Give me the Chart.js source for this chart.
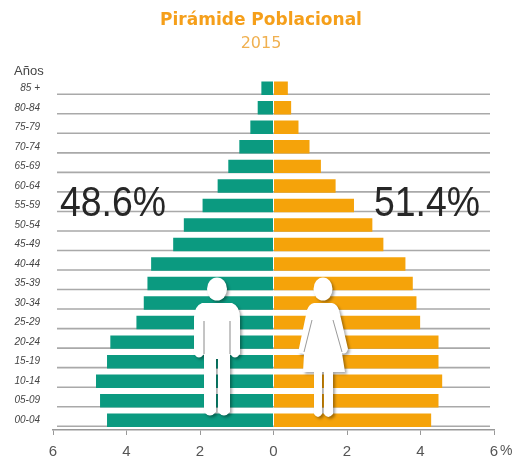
<!DOCTYPE html>
<html>
<head>
<meta charset="utf-8">
<script src="https://cdn.jsdelivr.net/npm/chart.js@4"></script>
<style>
  html, body { margin: 0; background: #fff; }
  #wrap { width: 514px; height: 459px; }
</style>
</head>
<body>
<div id="wrap"><canvas id="pyramid" width="514" height="459"></canvas></div>
<script>
// Values, % of population per age band (top band first).
const ageGroups = ['85 +', '80-84', '75-79', '70-74', '65-69', '60-64', '55-59', '50-54', '45-49',
    '40-44', '35-39', '30-34', '25-29', '20-24', '15-19', '10-14', '05-09', '00-04'];
const hombres = [0.33, 0.43, 0.63, 0.93, 1.23, 1.52, 1.93, 2.44, 2.73,
    3.33, 3.43, 3.53, 3.73, 4.44, 4.53, 4.83, 4.72, 4.53];
const mujeres = [0.39, 0.48, 0.68, 0.98, 1.29, 1.69, 2.19, 2.69, 2.99,
    3.59, 3.79, 3.89, 3.99, 4.49, 4.49, 4.59, 4.49, 4.29];
const xTicks = [-6, -4, -2, 0, 2, 4, 6];
const totalHombres = '48.6%';
const totalMujeres = '51.4%';

const TEAL = '#0b9a80';
const ORANGE = '#f5a30a';
const SANS = '"Liberation Sans", sans-serif';

// White man, drawn from its own head-centre origin.
function drawMan(ctx) {
    ctx.beginPath();
    ctx.ellipse(0, 0, 10, 11.5, 0, 0, Math.PI * 2);
    ctx.fill();
    ctx.beginPath();
    ctx.moveTo(-15, 14);
    ctx.lineTo(15, 14);
    ctx.quadraticCurveTo(23, 17, 23, 29);
    ctx.lineTo(23, 65);
    ctx.quadraticCurveTo(18, 72, 13, 65);
    ctx.lineTo(13, 123);
    ctx.quadraticCurveTo(7, 130, 1, 123);
    ctx.lineTo(1, 70);
    ctx.lineTo(-1, 70);
    ctx.lineTo(-1, 123);
    ctx.quadraticCurveTo(-7, 130, -13, 123);
    ctx.lineTo(-13, 65);
    ctx.quadraticCurveTo(-18, 72, -23, 65);
    ctx.lineTo(-23, 29);
    ctx.quadraticCurveTo(-23, 17, -15, 14);
    ctx.closePath();
    ctx.fill();
    ctx.save();
    ctx.shadowColor = 'transparent';
    ctx.strokeStyle = '#8a8a8a';
    ctx.lineWidth = 1;
    ctx.beginPath();
    ctx.moveTo(-13, 32);
    ctx.lineTo(-13, 65);
    ctx.moveTo(13, 32);
    ctx.lineTo(13, 65);
    ctx.stroke();
    ctx.restore();
}

// White woman, same origin convention.
function drawWoman(ctx) {
    ctx.beginPath();
    ctx.ellipse(0, 0, 9.5, 11.5, 0, 0, Math.PI * 2);
    ctx.fill();
    ctx.beginPath();
    ctx.moveTo(-9, 14);
    ctx.lineTo(9, 14);
    ctx.quadraticCurveTo(14, 15, 16, 21);
    ctx.lineTo(25, 60);
    ctx.quadraticCurveTo(23, 66, 19, 64);
    ctx.lineTo(22, 83);
    ctx.lineTo(10, 83);
    ctx.lineTo(10, 125);
    ctx.quadraticCurveTo(5, 131, 1, 125);
    ctx.lineTo(1, 83);
    ctx.lineTo(-1, 83);
    ctx.lineTo(-1, 125);
    ctx.quadraticCurveTo(-5, 131, -9, 125);
    ctx.lineTo(-9, 83);
    ctx.lineTo(-20, 83);
    ctx.lineTo(-19, 65);
    ctx.lineTo(-25, 64);
    ctx.lineTo(-16, 21);
    ctx.quadraticCurveTo(-14, 15, -9, 14);
    ctx.closePath();
    ctx.fill();
    ctx.save();
    ctx.shadowColor = 'transparent';
    ctx.strokeStyle = '#9a9a9a';
    ctx.lineWidth = 1;
    ctx.beginPath();
    ctx.moveTo(-11, 31);
    ctx.lineTo(-19, 63);
    ctx.moveTo(10, 31);
    ctx.lineTo(19, 63);
    ctx.stroke();
    ctx.restore();
}

// Big narrow percentage, squeezed since no condensed face is installed.
function drawTotal(ctx, text, left) {
    ctx.save();
    ctx.translate(left, 204);
    ctx.scale(0.87, 1);
    ctx.font = `43px ${SANS}`;
    ctx.textAlign = 'left';
    ctx.textBaseline = 'middle';
    ctx.fillText(text, 0, 0);
    ctx.restore();
}

// Grey rules sit just under each bar rather than on the band boundary.
const rowRules = {
    id: 'rowRules',
    beforeDatasetsDraw(chart) {
        const { ctx, scales: { x, y } } = chart;
        ctx.save();
        ctx.strokeStyle = '#a9a9a9';
        ctx.lineWidth = 1.6;
        ageGroups.forEach((g, i) => {
            const py = y.getPixelForValue(i) + 6;
            ctx.beginPath();
            ctx.moveTo(x.left + 4, py);
            ctx.lineTo(x.right - 4, py);
            ctx.stroke();
        });
        ctx.restore();
    },
};

const overlays = {
    id: 'overlays',
    afterDraw(chart) {
        const { ctx } = chart;
        ctx.save();
        ctx.fillStyle = '#fff';
        ctx.shadowColor = 'rgba(0,0,0,0.35)';
        ctx.shadowBlur = 3;
        ctx.shadowOffsetX = 2;
        ctx.shadowOffsetY = 2;
        ctx.save();
        ctx.translate(217, 289);
        drawMan(ctx);
        ctx.restore();
        ctx.save();
        ctx.translate(323, 289);
        drawWoman(ctx);
        ctx.restore();
        ctx.restore();

        ctx.save();
        ctx.fillStyle = '#262626';
        drawTotal(ctx, totalHombres, 60);
        drawTotal(ctx, totalMujeres, 374);

        ctx.textBaseline = 'middle';
        ctx.textAlign = 'center';
        ctx.fillStyle = '#f59f1a';
        ctx.font = 'bold 17px "DejaVu Sans"';
        ctx.fillText('Pirámide Poblacional', 261, 21);
        ctx.fillStyle = '#f0b050';
        ctx.font = '16px "DejaVu Sans"';
        ctx.fillText('2015', 261, 44);

        ctx.textAlign = 'left';
        ctx.fillStyle = '#444';
        ctx.font = `13px ${SANS}`;
        ctx.fillText('Años', 14, 71);
        ctx.fillStyle = '#555';
        ctx.font = `14px ${SANS}`;
        ctx.fillText('%', 500, 451);
        ctx.restore();
    },
};

new Chart(document.getElementById('pyramid'), {
    type: 'bar',
    data: {
        labels: ageGroups,
        datasets: [
            { label: 'Hombres', data: hombres.map(v => -v), backgroundColor: TEAL, categoryPercentage: 1, barPercentage: 0.69 },
            { label: 'Mujeres', data: mujeres, backgroundColor: ORANGE, categoryPercentage: 1, barPercentage: 0.69 },
        ],
    },
    options: {
        indexAxis: 'y',
        responsive: false,
        animation: false,
        devicePixelRatio: 1,
        layout: { padding: { left: 0, right: 20, top: 78.5, bottom: 0 } },
        plugins: {
            legend: { display: false },
            tooltip: { enabled: false },
        },
        scales: {
            x: {
                type: 'linear',
                stacked: true,
                min: -6,
                max: 6,
                afterBuildTicks(axis) { axis.ticks = xTicks.map(value => ({ value })); },
                afterFit(axis) { axis.height = 29; },
                grid: { drawOnChartArea: false, color: '#999', tickLength: 5 },
                border: { color: '#999', width: 1.5 },
                ticks: {
                    color: '#555',
                    maxRotation: 0,
                    padding: 8,
                    font: { family: SANS, size: 15 },
                    callback: v => Math.abs(v),
                },
            },
            y: {
                stacked: true,
                afterFit(axis) { axis.width = 53; },
                grid: { display: false },
                border: { display: false },
                ticks: {
                    color: '#444',
                    padding: 5,
                    autoSkip: false,
                    font: { family: SANS, size: 10, style: 'italic' },
                },
            },
        },
    },
    plugins: [rowRules, overlays],
});
</script>
</body>
</html>
